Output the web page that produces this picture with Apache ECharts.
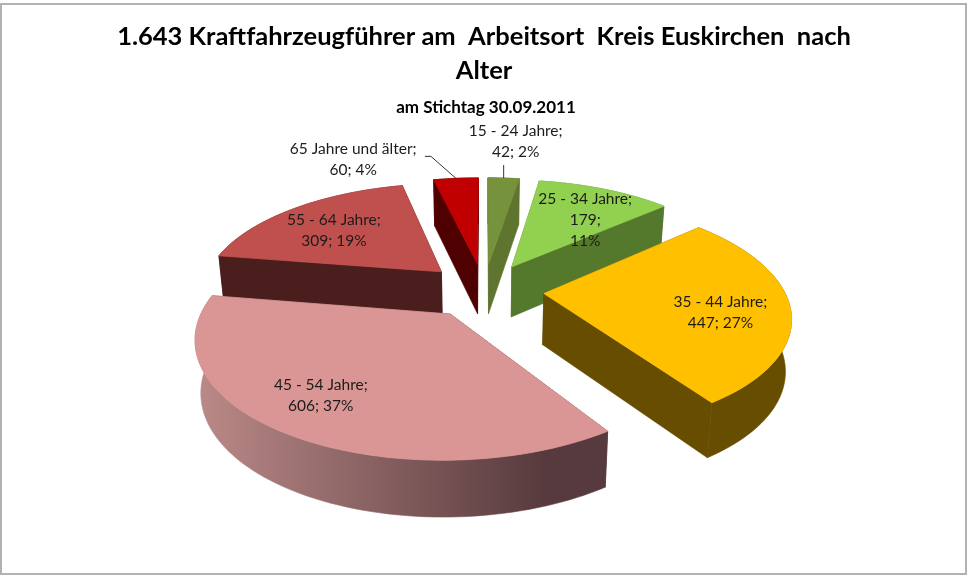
<!DOCTYPE html>
<html>
<head>
<meta charset="utf-8">
<style>html,body{margin:0;background:#fff}#chart{width:967px;height:575px}</style>
<script src="https://cdn.jsdelivr.net/npm/echarts@6/dist/echarts.min.js"></script>
</head>
<body>
<div id="chart"></div>
<script>
const categories = ['15 - 24 Jahre', '25 - 34 Jahre', '35 - 44 Jahre', '45 - 54 Jahre', '55 - 64 Jahre', '65 Jahre und älter'];
const values = [42, 179, 447, 606, 309, 60];
const percents = [2, 11, 27, 37, 19, 4];

const topColors = ['#76923c', '#92d050', '#ffc000', '#d99694', '#c0504d', '#c00000'];
const wallColors = ['#5f752f', '#54792d', '#664d00', '#573a3d', '#4b1e1e', '#4f0000'];
const wallLight = { 3: '#bb8a88' };

// label offset from the slice anchor, text line layout
const labelOffsets = [[17.5, -68], [14.5, 2], [30, 10], [-36.5, 15], [-15, -1.5], [-110.5, -50]];
const labelSplitValue = [false, true, false, false, false, false];
// leader lines, relative to the middle of the outer arc
const leaders = { 0: [[0, 0], [0, -13]], 5: [[0, 0], [-25, -22], [-31, -22]] };

// pie plane projection
const cx = 484, cy = 290, rx = 240, ry = 110, persp = 0.18;
const explode = 0.25, depth = 51, depthPersp = 0.085, bottomShrink = 0.98;

const total = values.reduce((a, b) => a + b, 0);
const FONT = 'Lato, "Open Sans", sans-serif';

function project(px, py) {
    let s = 1 / (1 + persp * py);
    return [cx + rx * px * s, cy - ry * py * s];
}

function lower(px, py) {
    let p = project(px, py);
    let d = depth / (1 + depthPersp * py);
    return [cx + (p[0] - cx) * bottomShrink, p[1] + d];
}

function sliceGeometry(start, end) {
    let mid = (start + end) / 2;
    let ox = explode * Math.sin(mid), oy = explode * Math.cos(mid);
    let arc = [];
    let steps = Math.max(4, Math.ceil((end - start) / 0.03));
    for (let i = 0; i <= steps; i++) {
        let a = start + (end - start) * i / steps;
        arc.push([ox + Math.sin(a), oy + Math.cos(a)]);
    }
    return { mid, ox, oy, arc };
}

function renderSlice(params, api) {
    let idx = api.value(0);
    let g = sliceGeometry(api.value(1), api.value(2));
    let apex = [g.ox, g.oy];
    let first = g.arc[0], last = g.arc[g.arc.length - 1];
    let wall = wallColors[idx];
    let arcFill = wall;
    if (wallLight[idx]) {
        arcFill = new echarts.graphic.LinearGradient(0, 0, 1, 0, [
            { offset: 0, color: wallLight[idx] },
            { offset: 0.85, color: wall },
            { offset: 1, color: wall }
        ]);
    }
    let quad = (a, b) => [project(a[0], a[1]), project(b[0], b[1]), lower(b[0], b[1]), lower(a[0], a[1])];
    let arcWall = g.arc.map(p => project(p[0], p[1])).concat(g.arc.slice().reverse().map(p => lower(p[0], p[1])));
    let topFace = [project(apex[0], apex[1])].concat(g.arc.map(p => project(p[0], p[1])));
    let top = topColors[idx];

    let children = [
        { type: 'polygon', shape: { points: quad(apex, first) }, style: { fill: wall, stroke: wall, lineWidth: 0.6 } },
        { type: 'polygon', shape: { points: quad(apex, last) }, style: { fill: wall, stroke: wall, lineWidth: 0.6 } },
        { type: 'polygon', shape: { points: arcWall }, style: { fill: arcFill, stroke: arcFill, lineWidth: 0.6 } },
        { type: 'polygon', shape: { points: topFace }, style: { fill: top, stroke: top, lineWidth: 0.8 } }
    ];

    // text and leader line
    let anchor = project(g.ox + 0.6 * Math.sin(g.mid), g.oy + 0.6 * Math.cos(g.mid));
    let off = labelOffsets[idx];
    let sep = labelSplitValue[idx] ? ';\n' : '; ';
    children.push({
        type: 'text',
        z2: 100,
        style: {
            x: anchor[0] + off[0],
            y: anchor[1] + off[1],
            text: categories[idx] + ';\n' + values[idx] + sep + percents[idx] + '%',
            align: 'center',
            verticalAlign: 'middle',
            font: '15.5px ' + FONT,
            lineHeight: 21,
            fill: '#1c1c1c'
        }
    });
    if (leaders[idx]) {
        let m = project(g.ox + Math.sin(g.mid), g.oy + Math.cos(g.mid));
        children.push({
            type: 'polyline',
            z2: 100,
            shape: { points: leaders[idx].map(d => [m[0] + d[0], m[1] + d[1]]) },
            style: { stroke: '#333', lineWidth: 1, fill: null }
        });
    }
    return { type: 'group', children };
}

// slices run clockwise from twelve o'clock, painted back to front
let cumulative = 0;
const sliceData = values.map((v, i) => {
    let start = cumulative / total * Math.PI * 2;
    cumulative += v;
    return [i, start, cumulative / total * Math.PI * 2];
}).sort((a, b) => Math.cos((b[1] + b[2]) / 2) - Math.cos((a[1] + a[2]) / 2));

const chart = echarts.init(document.getElementById('chart'));
chart.setOption({
    animation: false,
    backgroundColor: '#fff',
    title: [{
        text: '1.643 Kraftfahrzeugführer am  Arbeitsort  Kreis Euskirchen  nach\nAlter',
        left: 479,
        top: 15,
        textAlign: 'center',
        textStyle: { fontFamily: FONT, fontSize: 25.5, fontWeight: 'bold', color: '#000', lineHeight: 34 }
    }, {
        text: 'am Stichtag 30.09.2011',
        left: 481,
        top: 94,
        textAlign: 'center',
        textStyle: { fontFamily: FONT, fontSize: 17, fontWeight: 'bold', color: '#000' }
    }],
    graphic: [{
        type: 'rect',
        silent: true,
        shape: { x: 1, y: 4, width: 965, height: 570 },
        style: { fill: 'none', stroke: '#b2b2b2', lineWidth: 2 }
    }],
    series: [{
        type: 'custom',
        coordinateSystem: 'none',
        silent: true,
        renderItem: renderSlice,
        data: sliceData
    }]
});
</script>
</body>
</html>
